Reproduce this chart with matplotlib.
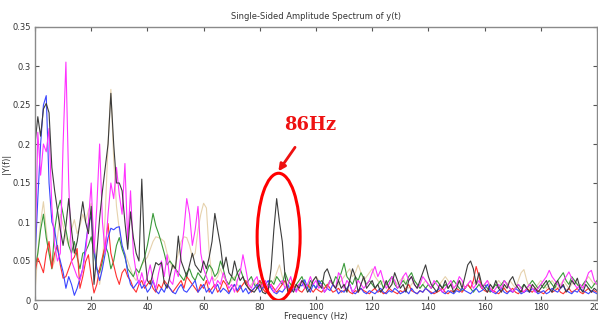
import numpy as np
import matplotlib
matplotlib.use("Agg")
import matplotlib.pyplot as plt
from matplotlib.patches import Ellipse

# amplitude spectra, 1 Hz bins from 0 to 200 Hz, values in units of 1e-3
freq = np.arange(0, 201)

amp_tan = [
    10, 60, 100, 126, 90, 60, 40, 50, 80, 110, 95, 80, 70, 90, 103, 85, 95, 110, 100, 115,
    124, 80, 40, 20, 45, 110, 200, 270, 180, 120, 90, 70, 60, 50, 40, 30, 25, 35, 45, 50,
    55, 65, 75, 81, 80, 78, 75, 60, 50, 40, 45, 60, 75, 81, 80, 70, 55, 60, 90, 110,
    124, 118, 60, 30, 25, 30, 40, 30, 25, 20, 25, 30, 20, 15, 20, 25, 15, 20, 25, 15,
    20, 15, 10, 15, 20, 25, 35, 45, 30, 20, 15, 20, 25, 15, 20, 25, 20, 15, 20, 25,
    30, 25, 20, 15, 20, 25, 20, 15, 20, 25, 30, 35, 40, 30, 35, 45, 35, 25, 30, 35,
    40, 30, 25, 20, 25, 20, 15, 20, 25, 20, 25, 30, 20, 15, 20, 25, 20, 15, 20, 25,
    20, 15, 20, 25, 20, 25, 30, 25, 20, 15, 20, 25, 20, 15, 20, 25, 20, 25, 20, 15,
    20, 25, 20, 15, 20, 25, 20, 15, 20, 25, 20, 15, 25, 35, 39, 25, 15, 20, 15, 20,
    25, 20, 15, 20, 25, 20, 15, 20, 25, 20, 15, 20, 25, 20, 15, 20, 25, 30, 25, 20,
    20,
]

amp_green = [
    40, 60, 90, 110, 80, 60, 40, 90, 115, 128, 110, 90, 70, 60, 75, 55, 40, 60, 62, 70,
    81, 60, 40, 35, 50, 70, 60, 40, 50, 70, 80, 65, 55, 40, 35, 30, 40, 35, 45, 55,
    70, 90, 111, 95, 85, 73, 60, 45, 50, 45, 40, 35, 30, 25, 35, 40, 30, 25, 35, 30,
    25, 35, 45, 40, 30, 35, 50, 40, 25, 20, 30, 25, 35, 40, 30, 20, 25, 30, 20, 15,
    25, 20, 15, 20, 25, 20, 30, 25, 20, 35, 25, 20, 15, 20, 25, 30, 20, 15, 25, 20,
    15, 20, 25, 20, 15, 25, 20, 30, 25, 35, 47, 30, 25, 20, 30, 25, 35, 28, 20, 25,
    20, 15, 20, 25, 15, 20, 25, 30, 20, 15, 20, 25, 20, 30, 35, 25, 20, 15, 20, 15,
    20, 15, 20, 25, 20, 15, 20, 15, 20, 25, 20, 15, 12, 15, 20, 15, 10, 15, 20, 15,
    20, 15, 10, 15, 20, 15, 20, 25, 20, 15, 10, 15, 20, 15, 20, 15, 20, 25, 20, 15,
    20, 15, 20, 25, 20, 15, 25, 30, 35, 25, 20, 30, 25, 20, 15, 20, 25, 20, 15, 20,
    25,
]

amp_red = [
    35, 54, 45, 35, 60, 75, 41, 60, 70, 45, 28, 30, 40, 50, 55, 66, 15, 30, 49, 58,
    30, 9, 20, 40, 55, 70, 98, 60, 45, 30, 20, 35, 40, 30, 25, 15, 10, 20, 25, 15,
    20, 25, 15, 10, 20, 15, 25, 20, 15, 10, 15, 20, 25, 15, 30, 25, 20, 15, 10, 20,
    15, 25, 10, 15, 20, 10, 15, 25, 20, 10, 15, 20, 10, 15, 20, 25, 15, 10, 15, 20,
    25, 15, 10, 15, 20, 15, 10, 15, 20, 25, 15, 10, 15, 20, 12, 10, 15, 20, 15, 10,
    15, 12, 10, 15, 20, 15, 10, 12, 15, 10, 12, 15, 10, 8, 12, 10, 15, 12, 10, 8,
    12, 15, 10, 12, 8, 10, 15, 12, 10, 8, 12, 10, 15, 20, 12, 10, 8, 12, 10, 15,
    12, 10, 8, 10, 12, 15, 10, 8, 12, 10, 15, 12, 10, 15, 20, 15, 25, 43, 30, 15,
    12, 10, 15, 12, 10, 8, 12, 15, 10, 12, 15, 10, 8, 12, 10, 15, 12, 10, 15, 12,
    10, 8, 12, 15, 10, 12, 15, 10, 8, 12, 15, 10, 12, 15, 10, 8, 12, 15, 10, 12,
    10,
]

amp_blue = [
    50, 130, 200, 250, 262, 150, 100, 90, 65, 50, 36, 15, 30, 20, 6, 15, 28, 40, 70, 98,
    108, 66, 40, 25, 40, 60, 80, 92, 90, 93, 94, 70, 58, 35, 20, 15, 20, 25, 15, 20,
    10, 15, 25, 12, 8, 15, 10, 20, 15, 10, 8, 15, 20, 12, 10, 15, 20, 25, 10, 15,
    20, 10, 15, 8, 15, 20, 10, 15, 12, 8, 15, 20, 12, 19, 10, 15, 8, 12, 15, 20,
    10, 15, 20, 25, 15, 10, 8, 12, 10, 15, 20, 10, 15, 12, 20, 18, 26, 15, 10, 20,
    15, 25, 20, 10, 15, 12, 20, 15, 8, 12, 10, 15, 20, 10, 8, 12, 15, 10, 8, 12,
    10, 8, 12, 15, 10, 8, 12, 10, 15, 12, 8, 10, 12, 8, 15, 10, 8, 12, 10, 15,
    12, 8, 10, 12, 15, 10, 8, 12, 10, 8, 12, 10, 15, 12, 10, 8, 12, 15, 10, 12,
    15, 20, 12, 10, 8, 12, 15, 10, 8, 12, 10, 15, 12, 8, 10, 12, 10, 15, 12, 8,
    10, 12, 8, 10, 15, 12, 10, 15, 18, 12, 10, 8, 12, 10, 15, 12, 10, 8, 12, 10,
    8,
]

amp_magenta = [
    50, 215, 160, 200, 190, 220, 120, 70, 50, 60, 200, 305, 150, 50, 40, 30, 25, 40, 60, 100,
    150, 60, 120, 200, 100, 60, 110, 150, 130, 170, 135, 110, 175, 75, 140, 60, 35, 20, 35, 20,
    30, 45, 25, 15, 35, 50, 30, 58, 25, 20, 40, 30, 60, 90, 130, 110, 70, 90, 120, 60,
    40, 30, 20, 30, 15, 25, 20, 35, 25, 15, 20, 10, 25, 35, 58, 40, 20, 15, 25, 30,
    15, 20, 25, 15, 20, 10, 15, 20, 25, 15, 20, 30, 15, 10, 20, 25, 15, 20, 30, 20,
    25, 15, 20, 10, 15, 25, 20, 15, 35, 30, 15, 25, 20, 10, 15, 25, 20, 15, 20, 25,
    35, 43, 30, 38, 25, 15, 20, 30, 25, 15, 20, 30, 35, 25, 30, 20, 15, 20, 30, 25,
    20, 15, 25, 20, 15, 10, 15, 20, 25, 15, 20, 30, 25, 15, 20, 25, 15, 20, 25, 15,
    20, 25, 15, 10, 15, 20, 15, 25, 20, 15, 10, 15, 20, 15, 10, 15, 20, 15, 10, 15,
    20, 25, 30, 38, 30, 25, 20, 15, 25, 30, 36, 28, 20, 15, 20, 15, 25, 35, 38, 25,
    20,
]

amp_black = [
    200, 235, 210, 245, 252, 240, 170, 140, 115, 90, 70, 95, 130, 90, 60, 75, 100, 126, 100, 85,
    120, 20, 60, 105, 140, 170, 200, 265, 200, 150, 150, 140, 100, 65, 113, 80, 60, 50, 155, 60,
    25, 20, 35, 48, 45, 48, 22, 15, 30, 45, 40, 82, 50, 40, 30, 45, 60, 45, 40, 35,
    50, 40, 55, 75, 111, 90, 70, 40, 55, 35, 30, 50, 35, 25, 30, 20, 15, 12, 10, 15,
    20, 10, 8, 12, 40, 90, 130, 100, 75, 30, 10, 15, 10, 20, 15, 25, 20, 10, 15, 25,
    30, 20, 15, 35, 40, 30, 20, 15, 25, 15, 20, 10, 25, 40, 30, 10, 20, 30, 15, 20,
    25, 15, 20, 10, 15, 25, 15, 20, 35, 25, 15, 20, 10, 25, 30, 20, 15, 25, 35, 45,
    30, 20, 15, 10, 20, 15, 25, 15, 20, 10, 15, 25, 15, 30, 45, 50, 40, 20, 35, 20,
    15, 10, 20, 15, 25, 15, 10, 20, 15, 25, 30, 20, 15, 10, 20, 15, 10, 20, 15, 10,
    15, 20, 25, 15, 10, 20, 25, 15, 20, 10, 15, 25, 20, 28, 15, 10, 20, 15, 10, 15,
    12,
]

series = [
    (amp_tan, "#e6d2ad"),
    (amp_green, "#3a9a3a"),
    (amp_red, "#ff3030"),
    (amp_blue, "#3a46ff"),
    (amp_magenta, "#ff33ff"),
    (amp_black, "#3c3c3c"),
]

yticks = [0, 0.05, 0.1, 0.15, 0.2, 0.25, 0.3, 0.35]
ytick_labels = ["0", "0.05", "0.1", "0.15", "0.2", "0.25", "0.3", "0.35"]
xticks = list(range(0, 201, 20))

fig = plt.figure(figsize=(5.98, 3.2), dpi=100)
ax = fig.add_axes([35 / 598, 20 / 320, 562 / 598, 273 / 320])

for amp, color in series:
    ax.plot(freq, np.array(amp) / 1000.0, color=color, lw=0.8)

ax.set_xlim(0, 200)
ax.set_ylim(0, 0.35)
ax.set_xticks(xticks)
ax.set_yticks(yticks)
ax.set_yticklabels(ytick_labels)
ax.tick_params(direction="in", top=True, right=True, length=3, width=0.8,
               colors="#555555", labelsize=6, labelcolor="#333333", pad=3)
ax.tick_params(axis="x", pad=2)
for sp in ax.spines.values():
    sp.set_color("#8a8a8a")
    sp.set_linewidth(1.0)

ax.set_title("Single-Sided Amplitude Spectrum of y(t)", fontsize=6, color="#333333", pad=6)
ax.set_xlabel("Frequency (Hz)", fontsize=6, color="#333333", labelpad=0)
ax.set_ylabel("|Y(f)|", fontsize=6, color="#333333", labelpad=1)

# highlight the 86 Hz component
ax.add_patch(Ellipse((86.7, 0.081), 15.3, 0.163, fill=False, edgecolor="#ff0000",
                     lw=2.2, zorder=10))
ax.annotate("86Hz", xy=(86.6, 0.165), xytext=(98, 0.224),
            fontsize=13, fontweight="bold", family="DejaVu Serif", color="#ee1111",
            ha="center", va="center",
            arrowprops=dict(arrowstyle="-|>", color="#ee1111", lw=2.0,
                            mutation_scale=10, shrinkA=9, shrinkB=0),
            zorder=11)

fig.savefig("out.png", dpi=100)
